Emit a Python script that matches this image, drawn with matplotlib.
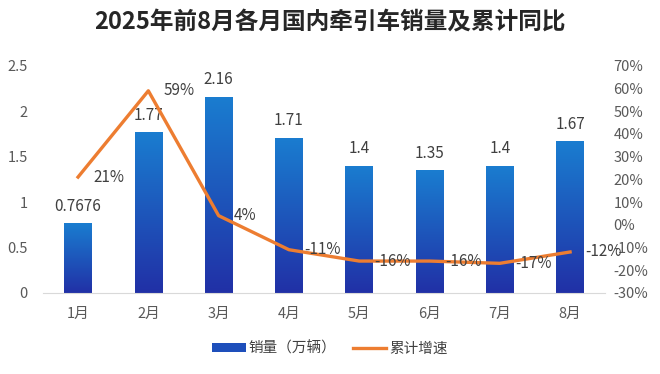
import numpy as np
import matplotlib.pyplot as plt
from matplotlib.colors import LinearSegmentedColormap
from matplotlib.patches import Patch
from matplotlib.lines import Line2D

plt.rcParams['font.family'] = ['Noto Sans CJK SC', 'DejaVu Sans']

# Data
months = ['1月', '2月', '3月', '4月', '5月', '6月', '7月', '8月']
sales = [0.7676, 1.77, 2.16, 1.71, 1.4, 1.35, 1.4, 1.67]
sales_labels = ['0.7676', '1.77', '2.16', '1.71', '1.4', '1.35', '1.4', '1.67']
growth = [21, 59, 4, -11, -16, -16, -17, -12]

# Colors
bar_top = '#1a7dd0'
bar_bottom = '#2130a6'
line_color = '#ed7d31'
tick_color = '#595959'
label_color = '#404040'

fig = plt.figure(figsize=(6.6, 3.74), dpi=100)
ax = fig.add_axes([0.065, 0.217, 0.852, 0.607])
ax2 = ax.twinx()

x = np.arange(len(months))
bars = ax.bar(x, sales, width=0.39, color='none', edgecolor='none', zorder=2)

# gradient fill for each bar, clipped to the bar rectangle
cmap = LinearSegmentedColormap.from_list('bar', [bar_bottom, bar_top])
grad = np.linspace(0, 1, 256).reshape(-1, 1)
for b in bars:
    x0, w, h = b.get_x(), b.get_width(), b.get_height()
    im = ax.imshow(grad, extent=[x0, x0 + w, 0, h], origin='lower',
                   aspect='auto', cmap=cmap, zorder=2)
    im.set_clip_path(b)

for xi, v, s in zip(x, sales, sales_labels):
    ax.annotate(s, (xi, v), xytext=(0, 6), textcoords='offset points',
                ha='center', va='bottom', fontsize=11, color=label_color)

ax.set_xlim(-0.5, 7.5)
ax.set_ylim(0, 2.5)
ax.set_yticks([0, 0.5, 1, 1.5, 2, 2.5])
ax.set_yticklabels(['0', '0.5', '1', '1.5', '2', '2.5'])
ax.set_xticks(x)
ax.set_xticklabels(months)

ax2.plot(x, growth, color=line_color, lw=2.4, zorder=3)
for xi, g in zip(x, growth):
    ax2.annotate(f'{g}%', (xi, g), xytext=(11, 0), textcoords='offset points',
                 ha='left', va='center', fontsize=11, color=label_color)
ax2.set_ylim(-30, 70)
ax2.set_yticks(range(-30, 71, 10))
ax2.set_yticklabels([f'{t}%' for t in range(-30, 71, 10)])

for a in (ax, ax2):
    for sp in a.spines.values():
        sp.set_visible(False)
    a.tick_params(length=0, labelsize=10.5, labelcolor=tick_color)
ax.spines['bottom'].set_visible(True)
ax.spines['bottom'].set_color('#d9d9d9')
ax.tick_params(axis='y', pad=11)
ax.tick_params(axis='x', pad=10)
ax2.tick_params(axis='y', pad=6)

fig.text(0.5, 0.94, '2025年前8月各月国内牵引车销量及累计同比', ha='center', va='center',
         fontsize=17, weight='bold', color='#262626')

handles = [Patch(facecolor='#1e4fbb', edgecolor='none'),
           Line2D([0], [0], color=line_color, lw=2.4)]
fig.legend(handles, ['销量（万辆）', '累计增速'], loc='center', bbox_to_anchor=(0.5, 0.068),
           ncol=2, frameon=False, fontsize=10.5, handlelength=2.3, handleheight=0.6,
           handletextpad=0.2, columnspacing=1.1, labelcolor=label_color)

fig.savefig('out.png', dpi=100)
